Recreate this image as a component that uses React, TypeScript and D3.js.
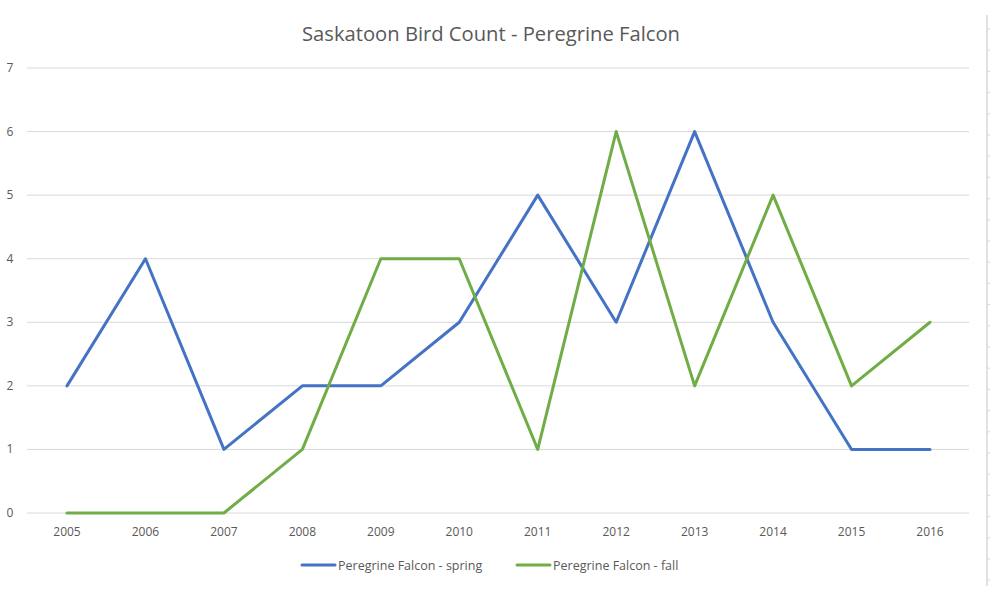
import React from "react";
import * as d3 from "d3";

const years = ["2005","2006","2007","2008","2009","2010","2011","2012","2013","2014","2015","2016"];
const spring = [2,4,1,2,2,3,5,3,6,3,1,1];
const fall = [0,0,0,1,4,4,1,6,2,5,2,3];
const yTicks = [0,1,2,3,4,5,6,7];
const seriesNames = ["Peregrine Falcon - spring", "Peregrine Falcon - fall"];
const title = "Saskatoon Bird Count - Peregrine Falcon";

const W = 990, H = 600;
const FONT = "'Open Sans', 'Noto Sans', sans-serif";

export default function App() {
  const x = d3.scalePoint<string>().domain(years).range([67, 930]);
  const y = d3.scaleLinear().domain([0, 7]).range([513, 68]);
  const line = d3.line<number>().x((_, i) => x(years[i])!).y(d => y(d));
  const rowTicks = d3.range(29, 590, 21.2);
  return (
    <svg width={W} height={H} style={{ position: "absolute", left: 0, top: 0, background: "#fff" }}>
      <rect width={W} height={H} fill="#fff" />
      <line x1={987} x2={987} y1={15} y2={586} stroke="#d9d9d9" strokeWidth={1.5} />
      {rowTicks.map((t, i) => (
        <line key={i} x1={987} x2={990} y1={t} y2={t} stroke="#d9d9d9" />
      ))}
      <text x={491} y={41} textAnchor="middle" fontFamily={FONT} fontSize={20.2} fill="#595959">{title}</text>
      {yTicks.map(t => (
        <g key={t}>
          <line x1={27} x2={969} y1={y(t)} y2={y(t)} stroke="#d9d9d9" strokeWidth={1} />
          <text x={10} y={y(t) + 4} textAnchor="middle" fontFamily={FONT} fontSize={12} fill="#595959">{t}</text>
        </g>
      ))}
      {years.map(yr => (
        <text key={yr} x={x(yr)} y={536} textAnchor="middle" fontFamily={FONT} fontSize={12} fill="#595959">{yr}</text>
      ))}
      <path d={line(spring)!} fill="none" stroke="#4472C4" strokeWidth={3} strokeLinejoin="round" strokeLinecap="round" />
      <path d={line(fall)!} fill="none" stroke="#70AD47" strokeWidth={3} strokeLinejoin="round" strokeLinecap="round" />
      <g>
        <line x1={302} x2={335} y1={565} y2={565} stroke="#4472C4" strokeWidth={3} strokeLinecap="round" />
        <text x={338} y={569.5} fontFamily={FONT} fontSize={12.5} fill="#595959">{seriesNames[0]}</text>
        <line x1={517} x2={550} y1={565} y2={565} stroke="#70AD47" strokeWidth={3} strokeLinecap="round" />
        <text x={553} y={569.5} fontFamily={FONT} fontSize={12.5} fill="#595959">{seriesNames[1]}</text>
      </g>
    </svg>
  );
}
